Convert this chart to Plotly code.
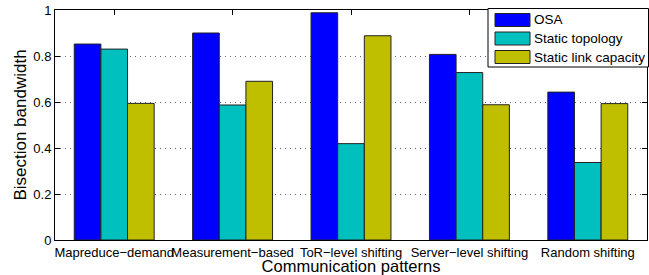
import plotly.graph_objects as go

categories = ["Mapreduce\u2212demand", "Measurement\u2212based", "ToR\u2212level shifting",
              "Server\u2212level shifting", "Random shifting"]
series_names = ["OSA", "Static topology", "Static link capacity"]
osa = [0.852, 0.900, 0.988, 0.807, 0.643]
static_topology = [0.830, 0.587, 0.419, 0.728, 0.337]
static_link = [0.594, 0.690, 0.888, 0.588, 0.593]
colors = ["#0000FF", "#00BFBF", "#BFBF00"]

x = [1, 2, 3, 4, 5]
font = "Liberation Sans, Arial, Helvetica, sans-serif"
W, H = 649, 275
ML, MR, MT, MB = 55, 2, 10, 35
PW, PH = W - ML - MR, H - MT - MB


def px_x(px):
    return (px - ML) / PW


def px_y(py):
    return (H - MB - py) / PH


fig = go.Figure()
for name, vals, col in zip(series_names, [osa, static_topology, static_link], colors):
    fig.add_trace(go.Bar(x=x, y=vals, name=name, showlegend=False,
                         marker=dict(color=col, line=dict(color="#222222", width=1))))

# legend box drawn as decoration (MATLAB-style wide swatches)
shapes = [dict(type="rect", xref="paper", yref="paper", x0=px_x(488), x1=px_x(648.5),
               y0=px_y(67), y1=px_y(8.5), line=dict(color="black", width=1), fillcolor="white", layer="above")]
annotations = []
row_centers = [20, 38.5, 57]
for name, col, rc in zip(series_names, colors, row_centers):
    shapes.append(dict(type="rect", xref="paper", yref="paper", x0=px_x(495), x1=px_x(530),
                       y0=px_y(rc + 6.5), y1=px_y(rc - 6.5), line=dict(color="#222222", width=1),
                       fillcolor=col, layer="above"))
    annotations.append(dict(xref="paper", yref="paper", x=px_x(532), y=px_y(rc), text=name,
                            showarrow=False, xanchor="left", yanchor="middle",
                            font=dict(size=13.5, family=font, color="black")))

fig.update_layout(
    width=W, height=H,
    margin=dict(l=ML, r=MR, t=MT, b=MB),
    plot_bgcolor="white", paper_bgcolor="white",
    barmode="group", bargap=0.325, bargroupgap=0,
    font=dict(family=font, size=13, color="black"),
    showlegend=False,
    shapes=shapes, annotations=annotations,
)
fig.update_xaxes(range=[0.5, 5.5], tickvals=x, ticktext=categories, showline=True, mirror="ticks",
                 linecolor="black", linewidth=1, ticks="inside", ticklen=5, tickcolor="black",
                 showgrid=False, zeroline=False, tickfont=dict(size=13), automargin=False,
                 tickangle=0, layer="below traces",
                 title=dict(text="Communication patterns", font=dict(size=16.5), standoff=0))
fig.update_yaxes(range=[0, 1], tickvals=[0, 0.2, 0.4, 0.6, 0.8, 1], ticktext=["0", "0.2", "0.4", "0.6", "0.8", "1"],
                 showline=True, mirror="ticks", linecolor="black", linewidth=1, ticks="inside", ticklen=5,
                 tickcolor="black", showgrid=True, gridcolor="#666666", griddash="1px,4px", gridwidth=1,
                 zeroline=False, tickfont=dict(size=13), automargin=False, layer="below traces",
                 title=dict(text="Bisection bandwidth", font=dict(size=17), standoff=2))
fig.write_html("out.html", config={"displayModeBar": False},
               post_script="document.body.style.margin='0';document.body.style.padding='0';")
